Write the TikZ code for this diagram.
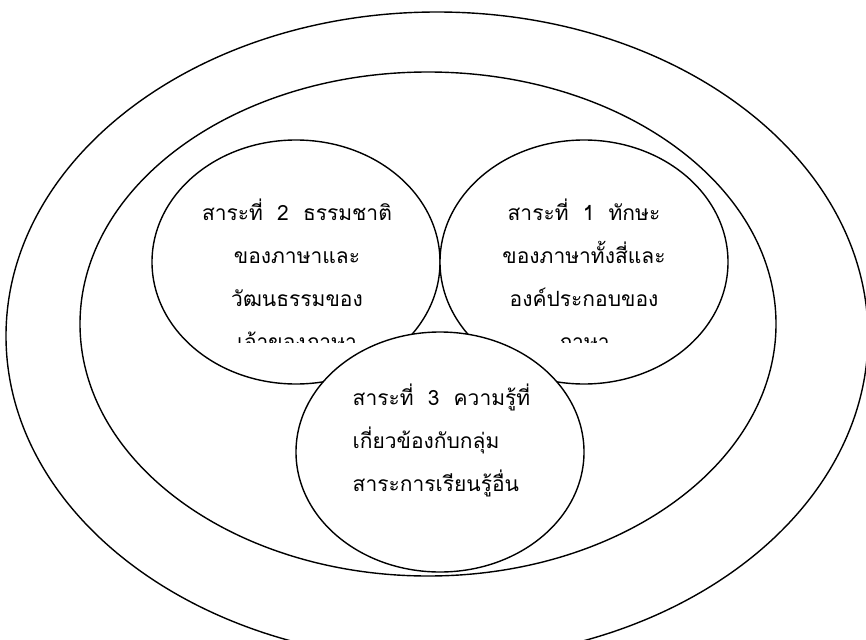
\documentclass[tikz,border=0pt]{standalone}
\usepackage{fontspec}
\newfontfamily\thaifont[Script=Thai]{Loma}
\usetikzlibrary{shapes.geometric, positioning}
\tikzset{every picture/.style={line width=1.4pt}}
\tikzset{ring/.style={draw, ellipse, inner sep=0pt}}
\tikzset{topic/.style={ring, fill=white, minimum width=288pt, minimum height=244pt}}
\tikzset{thtext/.style={font=\thaifont\fontsize{21}{43}\selectfont, inner sep=0pt}}

\begin{document}
\begin{tikzpicture}[x=1pt, y=-1pt]
  \clip (0,0) rectangle (866,639);
  \node[ring, minimum width=862pt, minimum height=648pt] (outer) at (437,336) {};
  \node[ring, minimum width=696pt, minimum height=504pt] (inner) at (428,324) {};
  \node[topic] (sub2) at (296,262) {};
  \node[topic] (sub1) at (584,262) {};
  % last lines are cut off, as in the original
  \begin{scope}
    \clip (140,140) rectangle (740,342);
    \node[thtext, align=center] (txt2) at (297,274)
      {สาระที่ \ 2 \ ธรรมชาติ\\ของภาษาและ\\วัฒนธรรมของ\\เจ้าของภาษา};
    \node[thtext, align=center] (txt1) at (584,274)
      {สาระที่ \ 1 \ ทักษะ\\ของภาษาทั้งสี่และ\\องค์ประกอบของ\\ภาษา};
  \end{scope}
  \node[topic, minimum height=240pt] (sub3) at (440,452) {};
  \node[thtext, align=left, anchor=west] (txt3) at (352,440)
    {สาระที่ \ 3 \ ความรู้ที่\\เกี่ยวข้องกับกลุ่ม\\สาระการเรียนรู้อื่น};
\end{tikzpicture}
\end{document}
